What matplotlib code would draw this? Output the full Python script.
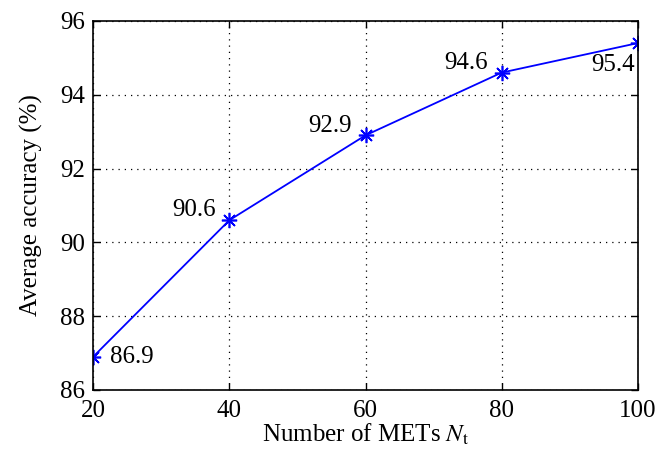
import matplotlib
matplotlib.use('Agg')
import matplotlib.pyplot as plt

# number of METs vs. average accuracy
n_mets = [20, 40, 60, 80, 100]
accuracy = [86.9, 90.6, 92.9, 94.6, 95.4]
labels = ['86.9', '90.6', '92.9', '94.6', '95.4']

plt.rcParams['font.family'] = ['Liberation Serif', 'DejaVu Serif']
plt.rcParams['mathtext.fontset'] = 'stix'

fig = plt.figure(figsize=(6.61, 4.55), dpi=100)
ax = fig.add_axes([0.141, 0.143, 0.824, 0.811])

# matlab style asterisk: plus and cross together
ax.plot(n_mets, accuracy, color='blue', linewidth=1.3,
        marker=(8, 2, 0), markersize=11, markeredgewidth=1.2)

# value labels: first one to the right, last one below, rest to the left
offsets = [(12, 0, 'left', 'center'),
           (-10, 7, 'right', 'center'),
           (-10, 7, 'right', 'center'),
           (-10, 7, 'right', 'center'),
           (-2, -16, 'right', 'center')]
for x, y, s, (dx, dy, ha, va) in zip(n_mets, accuracy, labels, offsets):
    ax.annotate(s, (x, y), xytext=(dx, dy), textcoords='offset points',
                ha=ha, va=va, fontsize=18)

ax.set_xlim(20, 100)
ax.set_ylim(86, 96)
ax.set_xticks([20, 40, 60, 80, 100])
ax.set_yticks([86, 88, 90, 92, 94, 96])
ax.grid(True, linestyle=(0, (1, 4)), color='black', linewidth=0.9)
ax.tick_params(direction='in', labelsize=18, length=5, width=1,
               top=True, right=True)
ax.tick_params(axis='x', pad=7)
ax.tick_params(axis='y', pad=6)
for sp in ax.spines.values():
    sp.set_linewidth(1.2)

ax.set_xlabel('Number of METs $N_{\\mathrm{t}}$', fontsize=18, labelpad=0)
ax.set_ylabel('Average accuracy (%)', fontsize=18, labelpad=12)

fig.savefig('out.png', dpi=100)
